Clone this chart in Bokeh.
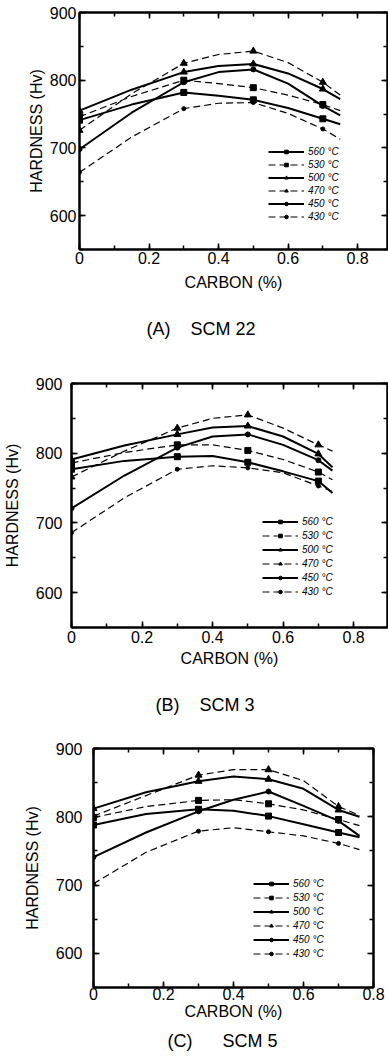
from bokeh.plotting import figure
from bokeh.models import (Range1d, SingleIntervalTicker, LinearAxis, Legend, LegendItem, Title,
                          CustomJSTickFormatter)
from bokeh.embed import file_html
from bokeh.resources import INLINE

TEMPS = ["560", "530", "500", "470", "450", "430"]
MEASURED_IDX = [0, 2, 4, 6]  # positions of measured points (0, 0.3, 0.5, 0.7 % C)

# ---- (A) SCM 22 ----
X_A = [0.0, 0.15, 0.3, 0.4, 0.5, 0.6, 0.7, 0.75]
A_560 = [741, 764, 782, 777, 771, 759, 743, 735]
A_530 = [746, 776, 800, 795, 789, 778, 764, 755]
A_500 = [755, 786, 812, 821, 824, 810, 787, 772]
A_470 = [726, 780, 825, 838, 843, 826, 797, 778]
A_450 = [698, 752, 797, 812, 816, 795, 762, 748]
A_430 = [664, 716, 758, 766, 767, 751, 728, 713]

# ---- (B) SCM 3 ----
X_B = [0.0, 0.15, 0.3, 0.4, 0.5, 0.6, 0.7, 0.74]
B_560 = [777, 789, 795, 796, 787, 774, 760, 743]
B_530 = [786, 801, 812, 812, 804, 791, 773, 762]
B_500 = [791, 811, 827, 837, 839, 824, 799, 780]
B_470 = [766, 803, 836, 850, 855, 836, 812, 803]
B_450 = [721, 768, 808, 824, 827, 812, 790, 775]
B_430 = [686, 736, 777, 782, 779, 772, 753, 745]

# ---- (C) SCM 5 ----
X_C = [0.0, 0.15, 0.3, 0.4, 0.5, 0.6, 0.7, 0.76]
C_560 = [788, 804, 811, 809, 801, 789, 777, 770]
C_530 = [799, 815, 824, 825, 819, 810, 796, 787]
C_500 = [812, 836, 852, 859, 855, 841, 810, 800]
C_470 = [801, 831, 861, 869, 869, 853, 815, 802]
C_450 = [741, 777, 808, 825, 837, 816, 794, 772]
C_430 = [702, 748, 779, 784, 778, 772, 761, 752]

X_TITLE = "CARBON (%)"
Y_TITLE = "HARDNESS (Hv)"

STYLE = {
    "560": dict(dash="solid", lw=2.0, marker="square", size=6),
    "530": dict(dash="7 4", lw=1.2, marker="square", size=6),
    "500": dict(dash="solid", lw=2.0, marker="triangle", size=7),
    "470": dict(dash="7 4", lw=1.2, marker="triangle", size=7),
    "450": dict(dash="solid", lw=2.0, marker="circle", size=5),
    "430": dict(dash="7 4", lw=1.2, marker="circle", size=4),
}

FONT = "Liberation Sans"
NB = "\u00a0"


def style_axis(ax, show_labels=True, standoff=5):
    ax.axis_line_color = "black"
    ax.axis_line_width = 2
    ax.major_tick_in = 6
    ax.major_tick_out = 0
    ax.minor_tick_in = 4
    ax.minor_tick_out = 0
    ax.major_tick_line_color = "black"
    ax.minor_tick_line_color = "black"
    ax.major_tick_line_width = 1.5
    ax.minor_tick_line_width = 1.5
    if show_labels:
        ax.major_label_text_font = FONT
        ax.major_label_text_font_size = "16px"
        ax.major_label_text_color = "black"
        ax.major_label_standoff = standoff
    else:
        ax.formatter = CustomJSTickFormatter(code="return '';")
        ax.major_label_standoff = 0


def panel(title, xs, ys_list, xmax, height, borders, tick_standoffs, label_standoffs,
          legend_loc, legend_spacing, title_offset, title_standoff):
    bl, br, bt, bb = borders
    p = figure(width=388, height=height, x_range=Range1d(0, xmax), y_range=Range1d(550, 900),
               output_backend="svg", toolbar_location=None,
               min_border_left=bl, min_border_right=br, min_border_top=bt, min_border_bottom=bb)
    p.xgrid.visible = False
    p.ygrid.visible = False
    p.outline_line_color = "black"
    p.outline_line_width = 2
    p.background_fill_color = "white"
    p.border_fill_color = "white"

    p.xaxis.ticker = SingleIntervalTicker(interval=0.2, num_minor_ticks=2)
    p.yaxis.ticker = SingleIntervalTicker(interval=100, num_minor_ticks=2)
    p.xaxis.major_label_overrides = {0: "0"}
    style_axis(p.xaxis[0], True, tick_standoffs[0])
    style_axis(p.yaxis[0], True, tick_standoffs[1])
    p.xaxis.axis_label = X_TITLE
    p.yaxis.axis_label = Y_TITLE
    for ax, so in ((p.xaxis[0], label_standoffs[0]), (p.yaxis[0], label_standoffs[1])):
        ax.axis_label_text_font = FONT
        ax.axis_label_text_font_size = "16px"
        ax.axis_label_text_font_style = "normal"
        ax.axis_label_text_color = "black"
        ax.axis_label_standoff = so

    top = LinearAxis(ticker=SingleIntervalTicker(interval=0.2, num_minor_ticks=2))
    style_axis(top, False)
    p.add_layout(top, "above")
    right = LinearAxis(ticker=SingleIntervalTicker(interval=100, num_minor_ticks=2))
    style_axis(right, False)
    p.add_layout(right, "right")

    items = []
    for t, ys in zip(TEMPS, ys_list):
        st = STYLE[t]
        lr = p.line(xs, ys, line_color="black", line_width=st["lw"], line_dash=st["dash"])
        mx = [xs[i] for i in MEASURED_IDX]
        my = [ys[i] for i in MEASURED_IDX]
        sr = p.scatter(mx, my, marker=st["marker"], size=st["size"],
                       fill_color="black", line_color="black")
        items.append(LegendItem(label=f"{t} °C", renderers=[lr, sr]))

    leg = Legend(items=items, location=legend_loc)
    leg.border_line_color = None
    leg.background_fill_alpha = 0
    leg.padding = 0
    leg.margin = 0
    leg.spacing = legend_spacing
    leg.glyph_width = 36
    leg.glyph_height = 9
    leg.label_height = 9
    leg.label_standoff = 4
    leg.label_text_font = FONT
    leg.label_text_font_size = "10px"
    leg.label_text_font_style = "italic"
    leg.label_text_color = "black"
    p.add_layout(leg)

    p.add_layout(Title(text=title, align="left", offset=title_offset, text_font=FONT,
                       text_font_size="18px", text_font_style="normal", text_color="black",
                       standoff=title_standoff), "below")
    return p


pa = panel(f"(A){NB*3} SCM 22", X_A, [A_560, A_530, A_500, A_470, A_450, A_430], 0.886, 362,
           (79, 1, 12, 111), (2, 3), (7, 2), (189, 27), 2, 67, 47)
pb = panel(f"(B){NB*3} SCM 3", X_B, [B_560, B_530, B_500, B_470, B_450, B_430], 0.896, 376,
           (71, 1, 21, 108), (3, 9), (4, 12), (191, 30), 3, 84, 47)
pc = panel(f"(C){NB*5} SCM 5", X_C, [C_560, C_530, C_500, C_470, C_450, C_430], 0.8, 326,
           (93, 15, 10, 77), (0, 11), (0, 12), (160, 28), 3, 74, 13)

open("out.html", "w").write(file_html([pa, pb, pc], INLINE))
